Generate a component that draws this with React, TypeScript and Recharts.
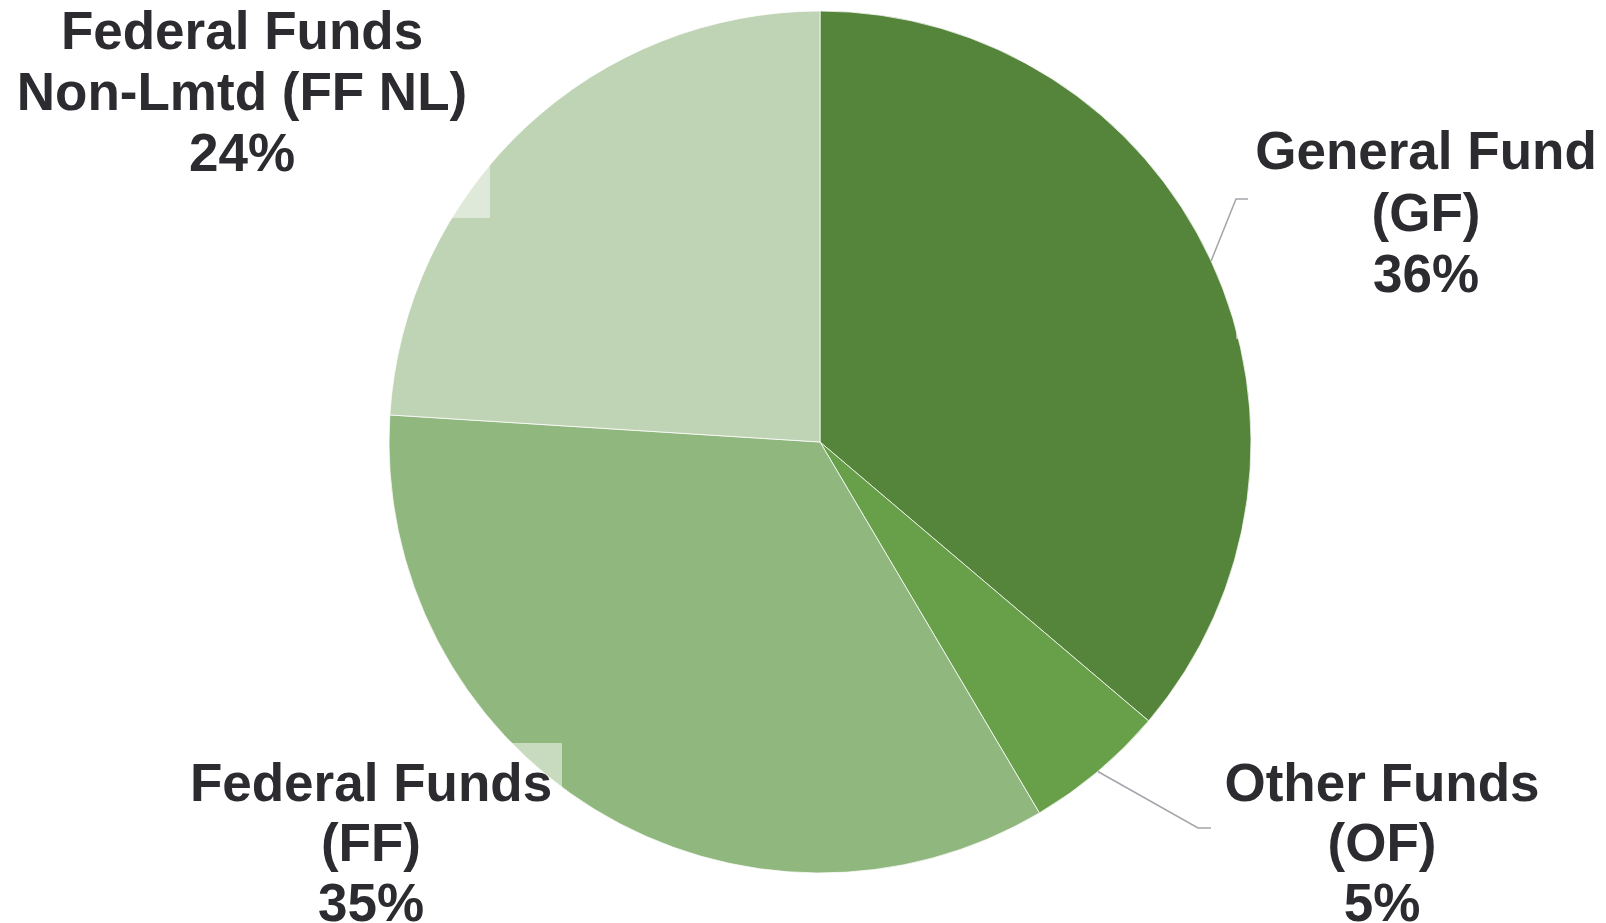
import React from "react";
import { Pie, PieChart } from "recharts";

const categories = ["General Fund (GF)", "Other Funds (OF)", "Federal Funds (FF)", "Federal Funds Non-Lmtd (FF NL)"];
const shares = [36.2, 5.3, 34.5, 24.0];
const nameLines = [
  ["General Fund", "(GF)"],
  ["Other Funds", "(OF)"],
  ["Federal Funds", "(FF)"],
  ["Federal Funds", "Non-Lmtd (FF NL)"],
];
const colors = ["#55843b", "#68a04a", "#90b77e", "#bfd3b5"];

// label placement, relative to the pie centre
const labelPlace = [
  { dx: 606, dy: -273, gap: 61.5, halfW: 190, leader: { ex: 416, ey: -243, tx: 428 } },
  { dx: 562, dy: 359, gap: 60, halfW: 175, leader: { ex: 378, ey: 386, tx: 391 } },
  { dx: -449, dy: 359, gap: 60, halfW: 191, leader: null },
  { dx: -578, dy: -393, gap: 61, halfW: 248, leader: null },
];

const data = categories.map((name, i) => ({ name, value: shares[i], fill: colors[i] }));

const RADIAN = Math.PI / 180;
const textColor = "#2c2b30";

function renderLabel(props: any) {
  const { cx, cy, midAngle, outerRadius, index } = props;
  const p = labelPlace[index];
  const lines = [...nameLines[index], `${Math.round(shares[index])}%`];
  const x = cx + p.dx;
  const y0 = cy + p.dy;
  const lastY = y0 + p.gap * (lines.length - 1);
  let leader = null;
  if (p.leader) {
    const sx = cx + outerRadius * Math.cos(-midAngle * RADIAN);
    const sy = cy + outerRadius * Math.sin(-midAngle * RADIAN);
    const ex = cx + p.leader.ex;
    const ey = cy + p.leader.ey;
    leader = (
      <polyline
        points={`${sx},${sy} ${ex},${ey} ${cx + p.leader.tx},${ey}`}
        fill="none"
        stroke="#a6a3ab"
        strokeWidth={1.5}
      />
    );
  }
  return (
    <g key={`lbl-${index}`}>
      <rect x={x - p.halfW} y={y0 - 58} width={p.halfW * 2} height={lastY - y0 + 105} fill="#ffffff" fillOpacity={0.5} />
      {leader}
      {lines.map((t, k) => (
        <text
          key={k}
          x={x}
          y={y0 + p.gap * k}
          textAnchor="middle"
          fill={textColor}
          fontFamily="'Liberation Sans', Arial, sans-serif"
          fontWeight="bold"
          fontSize={53}
        >
          {t}
        </text>
      ))}
    </g>
  );
}

export default function App() {
  return (
    <div style={{ position: "absolute", left: 0, top: 0, width: 1606, height: 923, background: "#fff" }}>
      <PieChart width={1606} height={923} margin={{ top: 0, right: 0, bottom: 0, left: 0 }}>
        <Pie
          data={data}
          dataKey="value"
          nameKey="name"
          cx={820}
          cy={442}
          outerRadius={431}
          startAngle={90}
          endAngle={-270}
          stroke="#ffffff"
          strokeWidth={0.75}
          label={renderLabel}
          labelLine={false}
          isAnimationActive={false}
        />
      </PieChart>
    </div>
  );
}
